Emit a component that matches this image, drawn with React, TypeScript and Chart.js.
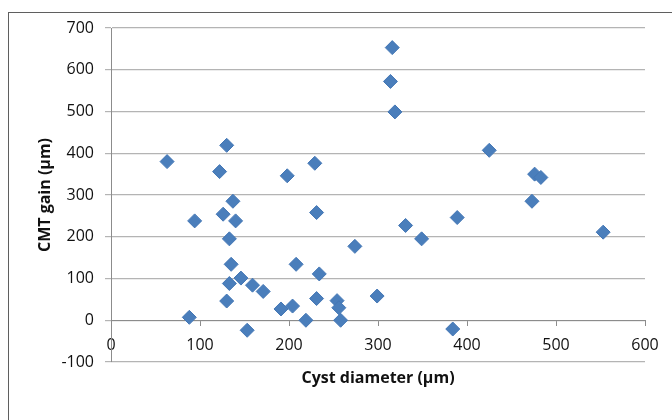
import React, { useEffect, useRef } from "react";
import { Chart, registerables } from "chart.js";

Chart.register(...registerables);

const cystDiameter: number[] = [63, 88, 94, 122, 130, 126, 137, 140, 133, 135, 133, 130, 146, 159, 171, 153, 191, 204, 198, 208, 219, 229, 231, 234, 231, 254, 256, 258, 274, 299, 316, 314, 319, 331, 349, 384, 389, 425, 473, 476, 483, 553];
const cmtGain: number[] = [380, 7, 238, 356, 419, 254, 285, 238, 195, 134, 88, 46, 101, 84, 69, -24, 27, 34, 346, 134, 0, 376, 258, 111, 52, 47, 30, 0, 177, 58, 653, 572, 499, 227, 195, -21, 246, 407, 285, 350, 342, 211];
const xTickValues: number[] = [0, 100, 200, 300, 400, 500, 600];
const yTickValues: number[] = [-100, 0, 100, 200, 300, 400, 500, 600, 700];
const xTitle = "Cyst diameter (µm)";
const yTitle = "CMT gain (µm)";

const FONT = "'Open Sans', 'Noto Sans', sans-serif";

export default function App() {
  const ref = useRef<HTMLCanvasElement | null>(null);

  useEffect(() => {
    if (!ref.current) return;
    const titlePlugin = {
      id: "axisTitles",
      afterDraw(chart: any) {
        const ctx = chart.ctx;
        const a = chart.chartArea;
        ctx.save();
        ctx.fillStyle = "#111";
        ctx.font = `bold 16px ${FONT}`;
        ctx.textAlign = "center";
        ctx.textBaseline = "middle";
        ctx.fillText(xTitle, (a.left + a.right) / 2, 378);
        ctx.translate(45, (a.top + a.bottom) / 2);
        ctx.rotate(-Math.PI / 2);
        ctx.fillText(yTitle, 0, 0);
        ctx.restore();
      },
    };
    const chart = new Chart(ref.current, {
      type: "scatter",
      data: {
        datasets: [
          {
            data: cystDiameter.map((x, i) => ({ x, y: cmtGain[i] })),
            pointStyle: "rectRot",
            pointRadius: 7,
            pointHoverRadius: 7,
            backgroundColor: "#4a7ebb",
            borderColor: "#4477b5",
            borderWidth: 1,
          },
        ],
      },
      options: {
        responsive: false,
        animation: false,
        layout: { padding: { left: 0, top: 28, right: 27, bottom: 58 } },
        plugins: { legend: { display: false }, tooltip: { enabled: false } },
        scales: {
          x: {
            type: "linear",
            position: { y: 0 } as any,
            min: 0,
            max: 600,
            afterBuildTicks: (s: any) => {
              s.ticks = xTickValues.map((v) => ({ value: v }));
            },
            grid: { drawOnChartArea: false, drawTicks: true, tickLength: 5, color: "#8c8c8c" },
            border: { display: true, color: "#8c8c8c" },
            ticks: { color: "#111", font: { family: FONT, size: 16 }, padding: 11, maxRotation: 0 },
          },
          y: {
            type: "linear",
            position: "left",
            min: -100,
            max: 700,
            afterBuildTicks: (s: any) => {
              s.ticks = yTickValues.map((v) => ({ value: v }));
            },
            afterFit: (s: any) => {
              s.width = 111;
            },
            grid: { color: "#b4b4b4", tickLength: 6, lineWidth: 1.2 },
            border: { display: true, color: "#8c8c8c" },
            ticks: { color: "#111", font: { family: FONT, size: 16 }, padding: 11 },
          },
        },
      },
      plugins: [titlePlugin],
    });
    return () => chart.destroy();
  }, []);

  return (
    <div style={{ position: "absolute", left: 0, top: 0, width: 672, height: 420, overflow: "hidden", background: "#fff" }}>
      <div style={{ position: "absolute", left: 8, top: 12, width: 700, height: 450, border: "1px solid #5f5f5f", boxSizing: "border-box" }} />
      <canvas ref={ref} width={672} height={420} style={{ position: "absolute", left: 0, top: 0, width: 672, height: 420 }} />
    </div>
  );
}
